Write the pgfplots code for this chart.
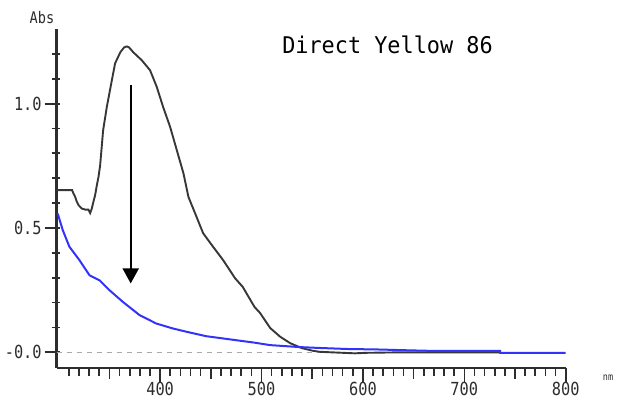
\documentclass[border=0pt]{standalone}
\usepackage{pgfplots}
\pgfplotsset{compat=1.18}
\usepackage{fontspec}
\setmainfont{DejaVu Sans Mono}
\newfontfamily\labfont[FakeStretch=0.85]{DejaVu Sans Mono}
\newfontfamily\titlefont[FakeStretch=0.95]{DejaVu Sans Mono}
\usetikzlibrary{arrows.meta}
\definecolor{curveblack}{RGB}{55,55,55}
\definecolor{curveblue}{RGB}{50,50,250}
\definecolor{axiscol}{RGB}{45,45,45}
\definecolor{zerogray}{RGB}{170,170,170}
\begin{document}
\begin{tikzpicture}[x=1pt,y=1pt]
\useasboundingbox (0,0) rectangle (621,400);
\begin{axis}[
  at={(56.7pt,32pt)}, anchor=south west,
  scale only axis, width=509pt, height=339pt,
  xmin=298, xmax=800, ymin=-0.063, ymax=1.30,
  axis x line=bottom, axis y line=left,
  axis line style={-, line width=2.6pt, color=axiscol},
  tick align=outside,
  major tick length=15pt, minor tick length=8pt,
  xtick={400,500,600,700,800},
  xticklabels={400,500,600,700,800},
  minor xtick={310,320,...,790},
  extra x ticks={350,450,550,650,750},
  extra x tick labels={},
  extra x tick style={major tick length=11pt},
  ytick={0,0.5,1},
  yticklabels={-0.0,0.5,1.0},
  minor ytick={0.1,0.2,0.3,0.4,0.6,0.7,0.8,0.9,1.1,1.2},
  xtick style={line width=1.6pt, color=axiscol},
  ytick style={line width=1.8pt, color=axiscol, xshift=3pt},
  tick label style={font=\labfont\fontsize{18}{18}\selectfont, text=axiscol},
  xticklabel style={yshift=4pt},
  yticklabel style={xshift=3.5pt},
  /pgf/number format/assume math mode=true,
  clip=false,
]
\addplot[zerogray, line width=1.3pt, dash pattern=on 5pt off 5pt] coordinates {(298,0) (800,0)};
\addplot[curveblack, line width=1.9pt] coordinates {
(298,0.652) (313.2,0.652) (314.5,0.639) (316.2,0.625) (317.9,0.605) (319.5,0.592)
(322.8,0.578) (326.1,0.574) (329.3,0.574) (331.0,0.560) (332.6,0.578) (334.2,0.605)
(335.9,0.632) (337.6,0.672) (339.2,0.705) (340.8,0.750) (343.8,0.893) (347.4,0.986)
(352.4,1.094) (355.6,1.162) (360.8,1.207) (364.5,1.226) (367.2,1.230) (369.4,1.226)
(373.4,1.207) (382.0,1.174) (390.1,1.134) (396.7,1.067) (403.0,0.986) (409.9,0.906)
(416.5,0.812) (423.0,0.720) (427.9,0.625) (434.5,0.559) (442.4,0.479) (452.3,0.424)
(462.1,0.371) (473.9,0.298) (481.5,0.263) (493.0,0.183) (498.6,0.158) (508.5,0.098)
(518.3,0.063) (528.2,0.037) (539.7,0.017) (550.9,0.006) (557.8,0.002) (580.5,-0.002)
(592.3,-0.004) (602.2,-0.002) (636.7,0) (735.3,0)
};
\addplot[curveblue, line width=2pt] coordinates {
(299,0.558) (304,0.491) (310.6,0.424) (320.4,0.371) (330.3,0.310) (340.1,0.290)
(350,0.250) (363.2,0.203) (379.6,0.150) (396.1,0.116) (412.5,0.096) (428.9,0.080)
(445.3,0.065) (461.8,0.056) (478.2,0.047) (493,0.039) (508.5,0.029) (538.1,0.021)
(554.5,0.018) (587.4,0.013) (610.1,0.012) (636.7,0.009) (666.3,0.006) (735.3,0.006)
(735.4,-0.002) (800,-0.002)
};
\draw[black, line width=2pt, -{Triangle[width=16pt,length=15pt]}] (axis cs:371,1.073) -- (axis cs:371,0.277);
\end{axis}
\node[font=\titlefont\fontsize{23}{23}\selectfont, text=black] at (387.5,355) {Direct Yellow 86};
\node[font=\labfont\fontsize{16}{16}\selectfont, text=axiscol] at (42,382.5) {Abs};
\node[font=\labfont\fontsize{10}{10}\selectfont, text=axiscol] at (608,22) {nm};
\end{tikzpicture}
\end{document}
